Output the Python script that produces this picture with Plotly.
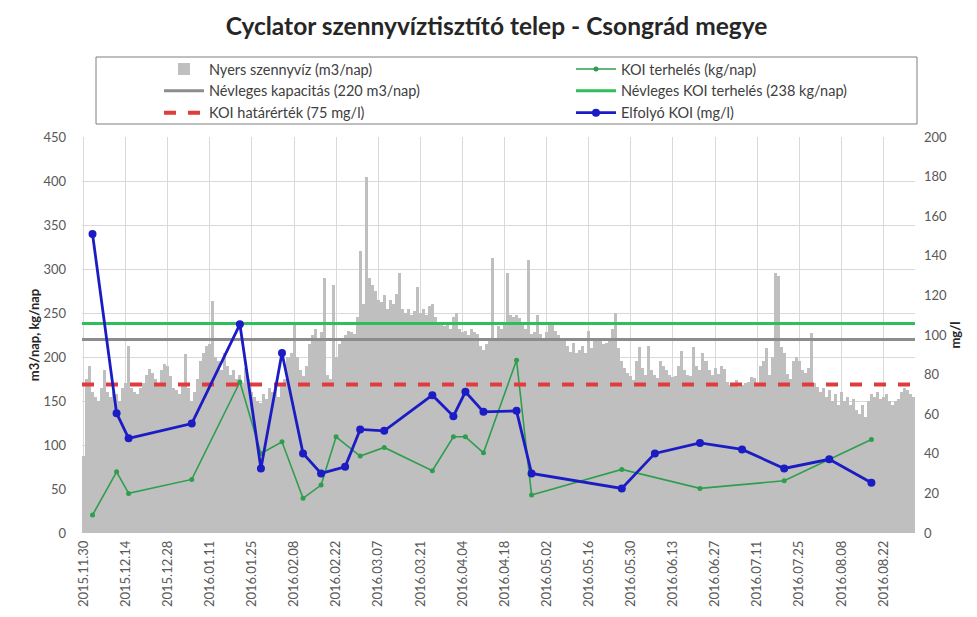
import pandas as pd
import plotly.graph_objects as go

# ---------------- data ----------------
start_date = "2015-11-30"
nyers = [
    87, 175, 190, 160, 155, 150, 165, 185, 160, 155, 160, 158, 150, 165, 170, 212, 165, 160, 158, 165,
    170, 180, 186, 182, 175, 168, 185, 192, 190, 178, 165, 162, 158, 170, 203, 165, 150, 160, 175, 195,
    205, 212, 215, 264, 200, 195, 185, 205, 190, 180, 185, 175, 180, 170, 188, 175, 160, 155, 150, 148,
    158, 152, 165, 160, 170, 155, 168, 175, 200, 205, 238, 200, 185, 178, 190, 215, 225, 232, 218, 228,
    290, 180, 175, 282, 200, 215, 222, 225, 230, 228, 226, 245, 320, 260, 404, 290, 282, 275, 265, 262,
    270, 255, 265, 260, 272, 295, 255, 250, 255, 248, 252, 279, 250, 255, 248, 258, 260, 245, 240, 238,
    235, 240, 232, 245, 250, 232, 228, 230, 225, 232, 228, 226, 212, 208, 215, 220, 313, 222, 235, 232,
    236, 295, 248, 245, 248, 244, 240, 232, 310, 226, 228, 248, 226, 222, 228, 238, 236, 230, 225, 219,
    220, 212, 206, 216, 205, 208, 212, 205, 230, 210, 220, 218, 219, 215, 216, 222, 232, 250, 210, 196,
    188, 182, 178, 174, 196, 211, 188, 180, 213, 185, 180, 176, 195, 190, 185, 180, 177, 178, 190, 207,
    185, 180, 178, 211, 190, 185, 205, 195, 185, 180, 188, 181, 190, 186, 172, 168, 170, 174, 166, 168,
    170, 172, 177, 176, 170, 190, 196, 210, 180, 200, 295, 292, 211, 205, 181, 175, 196, 200, 195, 185,
    182, 188, 227, 170, 166, 160, 165, 155, 162, 150, 158, 145, 160, 150, 155, 145, 152, 140, 135, 145,
    132, 150, 158, 155, 160, 152, 155, 158, 150, 145, 150, 152, 160, 165, 162, 158, 155,
]
nyers_dates = pd.date_range(start_date, periods=len(nyers), freq="D")

elfolyo_dates = [
    "2015-12-03", "2015-12-11", "2015-12-15", "2016-01-05", "2016-01-21", "2016-01-28", "2016-02-04",
    "2016-02-11", "2016-02-17", "2016-02-25", "2016-03-01", "2016-03-09", "2016-03-25", "2016-04-01",
    "2016-04-05", "2016-04-11", "2016-04-22", "2016-04-27", "2016-05-27", "2016-06-07", "2016-06-22",
    "2016-07-06", "2016-07-20", "2016-08-04", "2016-08-18",
]
elfolyo_koi = [151, 60.5, 47.8, 55.3, 105.4, 32.6, 90.9, 40.2, 30.1, 33.4, 52.3, 51.6, 69.6, 59,
               71.3, 61.2, 61.7, 30.1, 22.5, 40.2, 45.5, 42.2, 32.6, 37.2, 25.4]

terheles_dates = [
    "2015-12-03", "2015-12-11", "2015-12-15", "2016-01-05", "2016-01-21", "2016-01-28", "2016-02-04",
    "2016-02-11", "2016-02-17", "2016-02-22", "2016-03-01", "2016-03-09", "2016-03-25", "2016-04-01",
    "2016-04-05", "2016-04-11", "2016-04-22", "2016-04-27", "2016-05-27", "2016-06-22", "2016-07-20",
    "2016-08-18",
]
koi_terheles = [20.4, 69.5, 45, 60.9, 171.6, 90.4, 103.6, 39.4, 54.5, 109.3, 87.4, 97.2, 70.7, 109.3,
                109.3, 91.1, 196.3, 43.1, 72.3, 50.7, 59.3, 106.3]

nevleges_kapacitas = 220
nevleges_koi = 238
koi_hatarertek = 75

tick_dates = pd.date_range("2015-11-30", "2016-08-22", freq="14D")

# ---------------- figure ----------------
FONT = "Lato, 'Open Sans', sans-serif"
line_x = [nyers_dates[0] - pd.Timedelta(hours=12), nyers_dates[-1] + pd.Timedelta(hours=12)]

fig = go.Figure()
fig.add_trace(go.Bar(
    x=nyers_dates, y=nyers, name="Nyers szennyvíz (m3/nap)",
    marker=dict(color="#bfbfbf", line=dict(width=0)), yaxis="y", legend="legend",
))
fig.add_trace(go.Scatter(
    x=line_x, y=[nevleges_kapacitas] * 2, name="Névleges kapacitás (220 m3/nap)",
    mode="lines", line=dict(color="#8c8c8c", width=3), yaxis="y", legend="legend",
))
fig.add_trace(go.Scatter(
    x=line_x, y=[nevleges_koi] * 2, name="Névleges KOI terhelés (238 kg/nap)",
    mode="lines", line=dict(color="#2fbf5a", width=3), yaxis="y", legend="legend2",
))
fig.add_trace(go.Scatter(
    x=line_x, y=[koi_hatarertek] * 2, name="KOI határérték (75 mg/l)",
    mode="lines", line=dict(color="#e03c3c", width=4, dash="dash"), yaxis="y2", legend="legend",
))
fig.add_trace(go.Scatter(
    x=pd.to_datetime(terheles_dates), y=koi_terheles, name="KOI terhelés (kg/nap)",
    mode="lines+markers", line=dict(color="#2e9e4e", width=1.6),
    marker=dict(size=5, color="#2e9e4e"), yaxis="y", legend="legend2", legendrank=1,
))
fig.add_trace(go.Scatter(
    x=pd.to_datetime(elfolyo_dates), y=elfolyo_koi, name="Elfolyó KOI (mg/l)",
    mode="lines+markers", line=dict(color="#1c1cc4", width=2.8),
    marker=dict(size=8, color="#1c1cc4"), yaxis="y2", legend="legend2",
))

leg_common = dict(
    orientation="v", xanchor="left", yanchor="top", y=1.212,
    font=dict(family=FONT, size=14.5, color="#404040"),
    bgcolor="rgba(0,0,0,0)", borderwidth=0, itemwidth=40, traceorder="normal",
)

# the page body adds an 8px offset, so the margins are shifted to compensate
fig.update_layout(
    width=977, height=617,
    margin=dict(l=74, r=70, t=129, b=92),
    paper_bgcolor="white", plot_bgcolor="white",
    font=dict(family=FONT, size=13, color="#595959"),
    title=dict(text="<b>Cyclator szennyvíztisztító telep - Csongrád megye</b>",
               x=0.5, xanchor="center", y=0.970, yanchor="middle",
               font=dict(family=FONT, size=24.5, color="#262626")),
    bargap=0,
    showlegend=True,
    legend=dict(x=0.0924, **leg_common),
    legend2=dict(x=0.587, **leg_common),
    xaxis=dict(
        type="date",
        range=[nyers_dates[0] - pd.Timedelta(hours=12), nyers_dates[-1] + pd.Timedelta(hours=12)],
        tickmode="array", tickvals=tick_dates,
        ticktext=[d.strftime("%Y.%m.%d") for d in tick_dates],
        tickangle=-90, tickfont=dict(size=13, color="#595959"),
        showgrid=True, gridcolor="#d9d9d9", gridwidth=1,
        showline=False, zeroline=False, ticks="", ticklabelstandoff=4,
    ),
    yaxis=dict(
        range=[0, 450], dtick=50, tick0=0,
        showgrid=True, gridcolor="#d9d9d9", gridwidth=1, zeroline=False,
        tickfont=dict(size=13, color="#595959"), ticks="", ticklabelstandoff=15,
        title=dict(text="<b>m3/nap, kg/nap</b>", font=dict(size=13, color="#262626"), standoff=0),
    ),
    yaxis2=dict(
        range=[0, 200], dtick=20, tick0=0, overlaying="y", side="right",
        showgrid=False, zeroline=False, ticks="", ticklabelstandoff=8,
        tickfont=dict(size=13, color="#595959"),
        title=dict(text="<b>mg/l</b>", font=dict(size=13, color="#262626"), standoff=4),
    ),
    shapes=[dict(
        type="rect", xref="paper", yref="paper",
        x0=(96 - 82) / 833, x1=(917 - 82) / 833,
        y0=(533 - 124) / 396, y1=(533 - 57) / 396,
        line=dict(color="#7f7f7f", width=1), fillcolor="rgba(0,0,0,0)", layer="above",
    )],
)

fig.write_html("out.html")
